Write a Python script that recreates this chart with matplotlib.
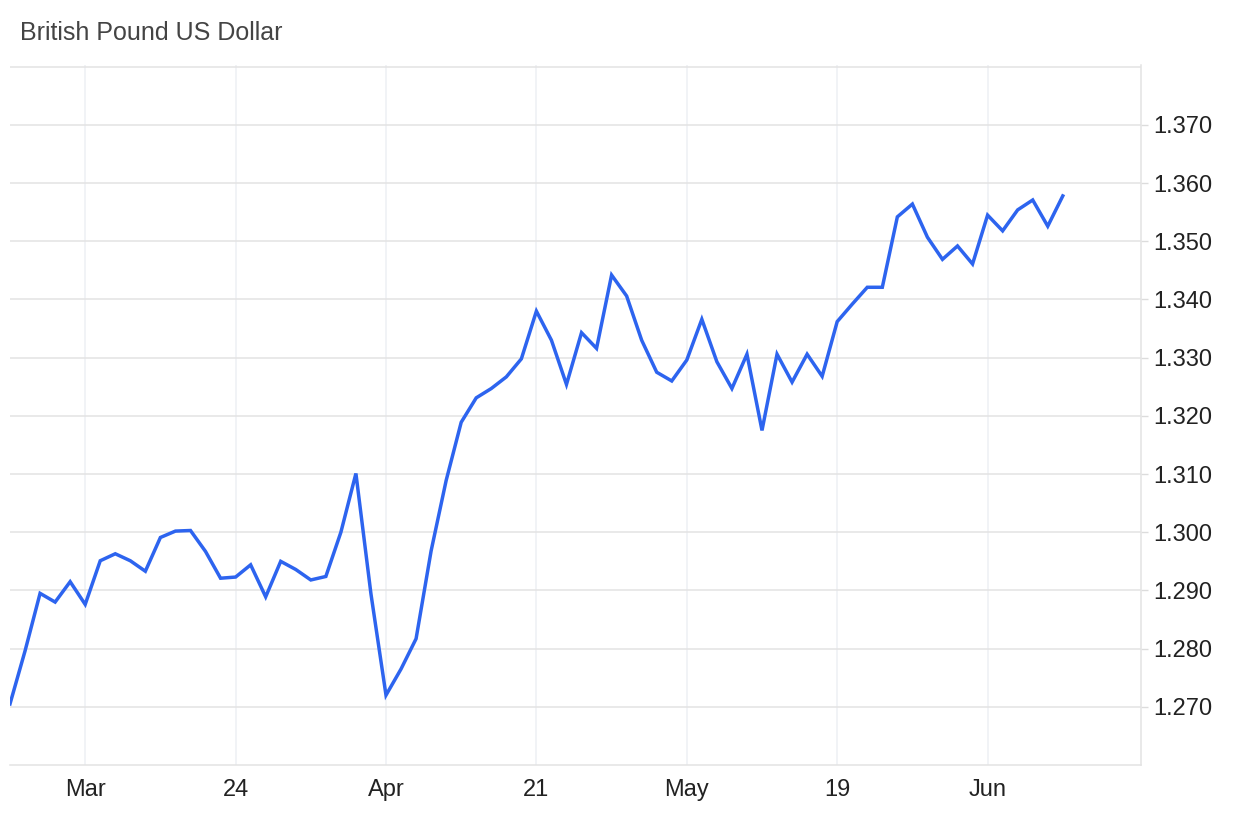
import numpy as np
import matplotlib.pyplot as plt

# GBP/USD daily closes
values = [1.2705, 1.2796, 1.2895, 1.2880, 1.2915, 1.2876, 1.2951, 1.2963, 1.2951, 1.2933,
          1.2991, 1.3002, 1.3003, 1.2967, 1.2921, 1.2923, 1.2944, 1.2889, 1.2950, 1.2936,
          1.2918, 1.2924, 1.3000, 1.3101, 1.2894, 1.2720, 1.2765, 1.2817, 1.2968, 1.3089,
          1.3189, 1.3231, 1.3247, 1.3267, 1.3298, 1.3380, 1.3330, 1.3254, 1.3343, 1.3316,
          1.3442, 1.3406, 1.3330, 1.3275, 1.3260, 1.3296, 1.3366, 1.3293, 1.3247, 1.3306,
          1.3175, 1.3306, 1.3258, 1.3306, 1.3268, 1.3362, 1.3392, 1.3421, 1.3421, 1.3542,
          1.3564, 1.3507, 1.3469, 1.3492, 1.3461, 1.3545, 1.3518, 1.3554, 1.3571, 1.3526,
          1.3578]
tick_pos = [5, 15, 25, 35, 45, 55, 65]
tick_labels = ["Mar", "24", "Apr", "21", "May", "19", "Jun"]
y_ticks = [1.270, 1.280, 1.290, 1.300, 1.310, 1.320, 1.330, 1.340, 1.350, 1.360, 1.370]

plt.rcParams['font.family'] = ['Liberation Sans', 'DejaVu Sans']

fig = plt.figure(figsize=(12.37, 8.22), dpi=100)
ax = fig.add_axes([10/1237, 57/822, 1131/1237, 700/822])

x = np.arange(len(values))
ax.plot(x, values, color="#2d64ef", linewidth=2.5, solid_joinstyle="miter", zorder=3)

ax.set_xlim(0, 75.2)
ax.set_ylim(1.260, 1.3803)

#grid
ax.set_yticks(y_ticks)
ax.set_yticklabels(["%.3f" % v for v in y_ticks])
ax.set_xticks(tick_pos)
ax.set_xticklabels(tick_labels)
ax.grid(axis="y", color="#e3e3e3", linewidth=1.1)
ax.grid(axis="x", color="#edf0f4", linewidth=1.1)
ax.axhline(1.380, color="#e3e3e3", linewidth=1.1)

ax.yaxis.tick_right()
ax.tick_params(axis="y", length=5, width=1, color="#dcdcdc", pad=4, labelsize=17, labelcolor="#222222")
ax.tick_params(axis="x", length=0, pad=10, labelsize=17, labelcolor="#222222")

for side in ["left", "top"]:
    ax.spines[side].set_visible(False)
ax.spines["right"].set_color("#e3e3e3")
ax.spines["bottom"].set_color("#e3e3e3")
ax.spines["right"].set_linewidth(1.1)
ax.spines["bottom"].set_linewidth(1.1)

fig.text(20/1237, 1 - 33/822, "British Pound US Dollar", fontsize=18, color="#444444",
         ha="left", va="center")

fig.savefig("out.png", dpi=100)
